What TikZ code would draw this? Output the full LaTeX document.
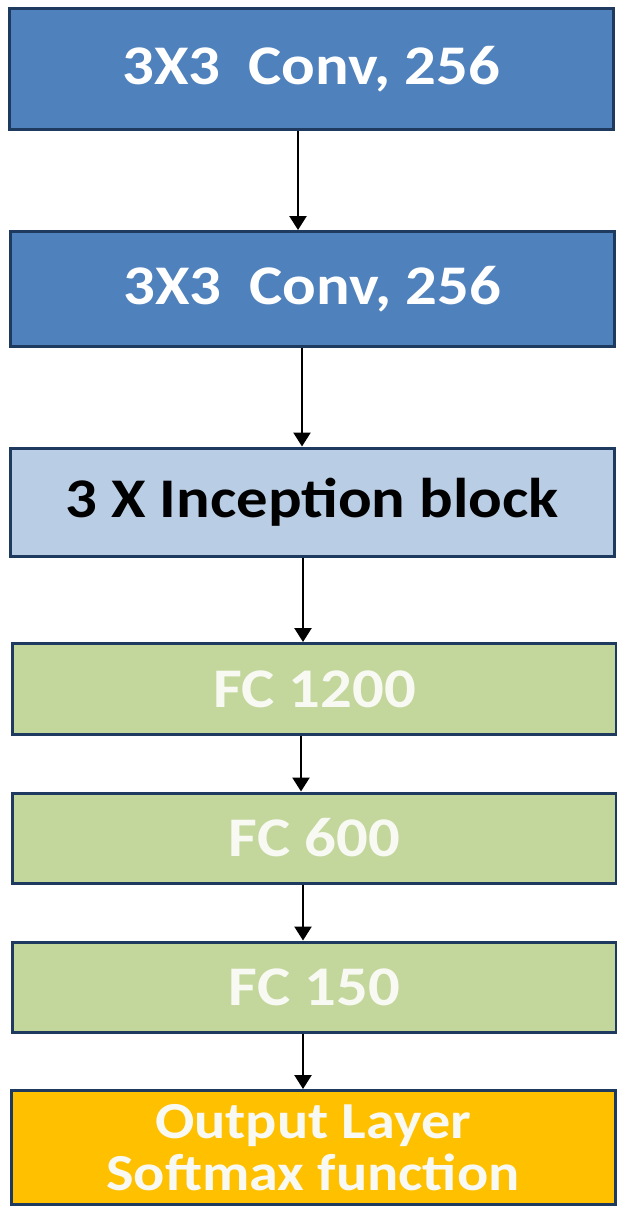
\documentclass[tikz,border=0pt]{standalone}
\usepackage{fontspec}
\setmainfont{Carlito}[FakeStretch=1.12]
\usetikzlibrary{arrows.meta}
\definecolor{convblue}{HTML}{4F81BD}
\definecolor{incblue}{HTML}{B9CDE5}
\definecolor{fcgreen}{HTML}{C3D69B}
\definecolor{outorange}{HTML}{FFC000}
\definecolor{edgenavy}{HTML}{1F3A5F}
\definecolor{softwhite}{HTML}{F7F9F2}
\tikzset{
  layer/.style={draw=edgenavy, line width=3pt, minimum width=604pt, inner sep=0pt,
    font=\fontsize{56}{50}\selectfont\bfseries, align=center},
  conv/.style={layer, fill=convblue, text=white},
  incep/.style={layer, fill=incblue, text=black},
  fc/.style={layer, fill=fcgreen, text=softwhite},
  outl/.style={layer, fill=outorange, text=softwhite,
    font=\fontsize{52}{52}\selectfont\bfseries},
  flow/.style={line width=2.4pt, -{Triangle[width=17pt,length=14pt]}}
}
\begin{document}
\begin{tikzpicture}[x=1pt,y=-1pt]
  \useasboundingbox (0,0) rectangle (617,1207);
  \node[conv,  minimum height=120pt] (c1)  at (311,69)    {3X3\hspace{0.5em}Conv, 256};
  \node[conv,  minimum height=115pt] (c2)  at (312,289)   {3X3\hspace{0.5em}Conv, 256};
  \node[incep, minimum height=108pt] (inc) at (312,502)   {3 X Inception block};
  \node[fc,    minimum height=91pt]  (f1)  at (314.5,689) {FC 1200};
  \node[fc,    minimum height=90pt]  (f2)  at (314.5,838) {FC 600};
  \node[fc,    minimum height=90pt]  (f3)  at (314.5,987) {FC 150};
  \node[outl,  minimum height=114pt] (out) at (313,1147.5) {Output Layer\\Softmax function};
  % vertical lines on which the connectors run
  \coordinate (v1) at (298,0);
  \coordinate (v2) at (302,0);
  \coordinate (v3) at (303,0);
  \coordinate (v4) at (301,0);
  \draw[flow] (c1.south -| v1)  -- (c2.north -| v1);
  \draw[flow] (c2.south -| v2)  -- (inc.north -| v2);
  \draw[flow] (inc.south -| v3) -- (f1.north -| v3);
  \draw[flow] (f1.south -| v4)  -- (f2.north -| v4);
  \draw[flow] (f2.south -| v3)  -- (f3.north -| v3);
  \draw[flow] (f3.south -| v3)  -- (out.north -| v3);
\end{tikzpicture}
\end{document}
